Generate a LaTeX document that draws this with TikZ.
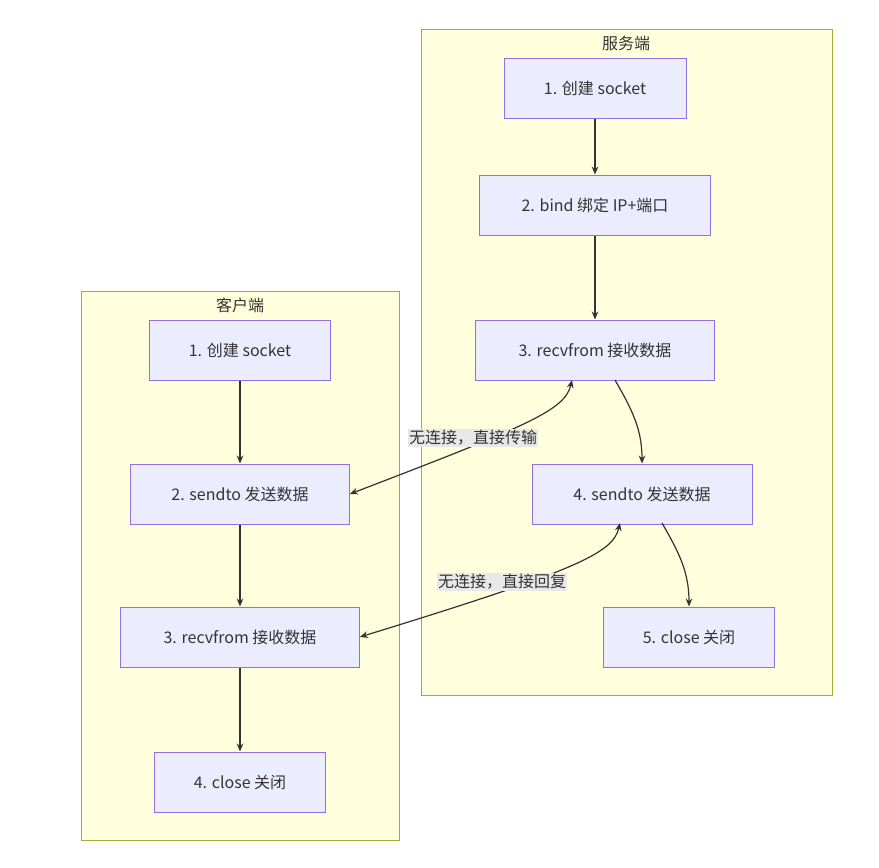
\documentclass[tikz,border=0pt]{standalone}
\usepackage{fontspec}
\setmainfont{Noto Sans CJK SC}
\usetikzlibrary{arrows.meta}
\definecolor{clusterfill}{HTML}{FFFFDE}
\definecolor{clusterdraw}{HTML}{AAAA33}
\definecolor{boxfill}{HTML}{ECECFF}
\definecolor{boxdraw}{HTML}{9370DB}
\definecolor{linkcol}{HTML}{333333}
\definecolor{lblfill}{HTML}{E8E8E8}
\tikzset{
  stepbox/.style={draw=boxdraw,fill=boxfill,line width=0.75pt,minimum height=45pt,font=\fontsize{12}{14}\selectfont,text=linkcol},
  cluster/.style={draw=clusterdraw,fill=clusterfill,line width=0.75pt},
  link/.style={draw=linkcol,line width=0.9pt,-{Stealth[length=6pt,width=5pt]}},
  both/.style={link,{Stealth[length=6pt,width=5pt]}-{Stealth[length=6pt,width=5pt]}},
  lbl/.style={fill=lblfill,inner sep=1pt,font=\fontsize{12}{14}\selectfont,text=linkcol},
  title/.style={font=\fontsize{12}{14}\selectfont,text=linkcol}
}
\begin{document}
\begin{tikzpicture}[x=0.75pt,y=-0.75pt]
\useasboundingbox (0,0) rectangle (879,868);
% clusters
\draw[cluster] (421,29) rectangle (832,695);
\node[title] (srvtitle) at (626,43) {服务端};
\draw[cluster] (81,291) rectangle (399,840);
\node[title] (clititle) at (240,305) {客户端};

% server
\node[stepbox,minimum width=136.5pt] (s1) at (595,88)  {1. 创建 socket};
\node[stepbox,minimum width=173pt]   (s2) at (595,205) {2. bind 绑定 IP+端口};
\node[stepbox,minimum width=179pt]   (s3) at (595,350) {3. recvfrom 接收数据};
\node[stepbox,minimum width=165pt]   (s4) at (642,494) {4. sendto 发送数据};
\node[stepbox,minimum width=128pt]   (s5) at (689,637) {5. close 关闭};

% client
\node[stepbox,minimum width=136pt]   (c1) at (240,350) {1. 创建 socket};
\node[stepbox,minimum width=164pt]   (c2) at (240,494) {2. sendto 发送数据};
\node[stepbox,minimum width=179pt]   (c3) at (240,637) {3. recvfrom 接收数据};
\node[stepbox,minimum width=128pt]   (c4) at (240,782) {4. close 关闭};

\coordinate (s3o) at (615,380);
\coordinate (s4o) at (662,523);
\draw[link] (s1) -- (s2);
\draw[link] (s2) -- (s3);
\draw[link] (s3o) to[out=-60,in=90] (s4.north);
\draw[link] (s4o) to[out=-60,in=90] (s5.north);
\draw[link] (c1) -- (c2);
\draw[link] (c2) -- (c3);
\draw[link] (c3) -- (c4);

\coordinate (s3b) at (572,380);
\coordinate (s4b) at (620,523);
\draw[both] (s3b) .. controls (565,410) and (530,425) .. (c2.east);
\draw[both] (s4b) .. controls (613,553) and (578,570) .. (c3.east);
\node[lbl] (l1) at (473,438) {无连接，直接传输};
\node[lbl] (l2) at (502,582) {无连接，直接回复};
\end{tikzpicture}
\end{document}
